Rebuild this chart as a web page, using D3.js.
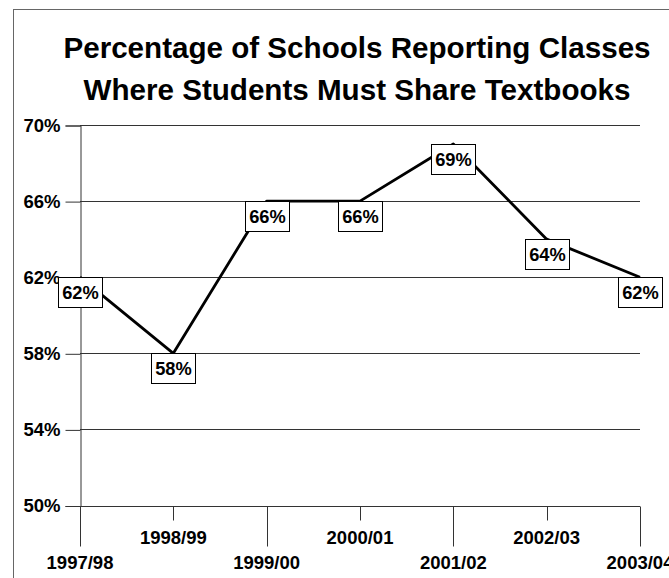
<!DOCTYPE html>
<html>
<head>
<meta charset="utf-8">
<script src="https://cdn.jsdelivr.net/npm/d3@7"></script>
<style>
  html, body { margin: 0; padding: 0; background: #fff; }
  svg { display: block; font-family: "Liberation Sans", Arial, sans-serif; font-weight: bold; }
</style>
</head>
<body>
<svg id="chart" width="669" height="578"></svg>
<script>
// School years on the horizontal axis
const years = ["1997/98", "1998/99", "1999/00", "2000/01", "2001/02", "2002/03", "2003/04"];
// Percentage of schools reporting classes where students must share textbooks
const shareRates = [62, 58, 66, 66, 69, 64, 62];
// Value axis ticks
const yTicks = [50, 54, 58, 62, 66, 70];
const titleLines = ["Percentage of Schools Reporting Classes", "Where Students Must Share Textbooks"];

const svg = d3.select("#chart");

const plot = { left: 80, right: 640, top: 125, bottom: 505.5 };

const x = d3.scalePoint().domain(years).range([plot.left, plot.right]).padding(0);
const y = d3.scaleLinear().domain([50, 70]).range([plot.bottom, plot.top]);

// Chart-area frame
svg.append("rect")
  .attr("x", 13.5).attr("y", 9.5)
  .attr("width", 700).attr("height", 600)
  .attr("fill", "#fff").attr("stroke", "#666").attr("stroke-width", 1);

// Title
svg.append("g").selectAll("text")
  .data(titleLines)
  .join("text")
  .attr("x", 357)
  .attr("y", (d, i) => 58 + i * 42)
  .attr("text-anchor", "middle")
  .attr("font-size", 29.6)
  .attr("fill", "#000")
  .text(d => d);

// Horizontal gridlines
svg.append("g").selectAll("line")
  .data(yTicks.filter(t => t > 50))
  .join("line")
  .attr("x1", plot.left).attr("x2", plot.right)
  .attr("y1", d => Math.round(y(d)) + 0.5).attr("y2", d => Math.round(y(d)) + 0.5)
  .attr("stroke", "#333").attr("stroke-width", 1);

// Value axis
const yAxis = d3.axisLeft(y)
  .tickValues(yTicks)
  .tickFormat(d => d + "%")
  .tickSize(15)
  .tickPadding(5);
const gy = svg.append("g")
  .attr("transform", `translate(${plot.left + 0.5},0.5)`)
  .call(yAxis);
gy.select(".domain").attr("stroke", "#333");
gy.selectAll(".tick line").attr("stroke", "#333");
gy.selectAll(".tick text")
  .attr("fill", "#000")
  .attr("font-size", 18.5)
  .attr("font-family", "Liberation Sans, Arial, sans-serif")
  .attr("font-weight", "bold");

// Category axis with staggered labels
const gx = svg.append("g").attr("transform", `translate(0,${Math.round(plot.bottom) + 0.5})`);
gx.append("line")
  .attr("x1", plot.left).attr("x2", plot.right)
  .attr("stroke", "#333");
gx.selectAll("line.tick")
  .data(years)
  .join("line")
  .attr("class", "tick")
  .attr("x1", d => Math.round(x(d)) + 0.5).attr("x2", d => Math.round(x(d)) + 0.5)
  .attr("y1", 0)
  .attr("y2", (d, i) => i % 2 === 0 ? 40 : 14)
  .attr("stroke", "#333");
gx.selectAll("text")
  .data(years)
  .join("text")
  .attr("x", d => x(d))
  .attr("y", (d, i) => i % 2 === 0 ? 62.5 : 37)
  .attr("text-anchor", "middle")
  .attr("font-size", 18.5)
  .attr("fill", "#000")
  .text(d => d);

// Series line
const line = d3.line()
  .x((d, i) => x(years[i]))
  .y(d => y(d));
svg.append("path")
  .datum(shareRates)
  .attr("d", line)
  .attr("fill", "none")
  .attr("stroke", "#000")
  .attr("stroke-width", 2.8)
  .attr("stroke-linejoin", "round");

// Boxed value labels just below each point
const boxW = 44, boxH = 30;
const labels = svg.append("g").selectAll("g")
  .data(shareRates)
  .join("g")
  .attr("transform", (d, i) => `translate(${Math.round(x(years[i]) - boxW / 2) + 0.5},${Math.round(y(d)) + 0.5})`);
labels.append("rect")
  .attr("width", boxW).attr("height", boxH)
  .attr("fill", "#fff").attr("stroke", "#000").attr("stroke-width", 1);
labels.append("text")
  .attr("x", boxW / 2).attr("y", 21.5)
  .attr("text-anchor", "middle")
  .attr("font-size", 18.3)
  .attr("fill", "#000")
  .text(d => d + "%");
</script>
</body>
</html>
